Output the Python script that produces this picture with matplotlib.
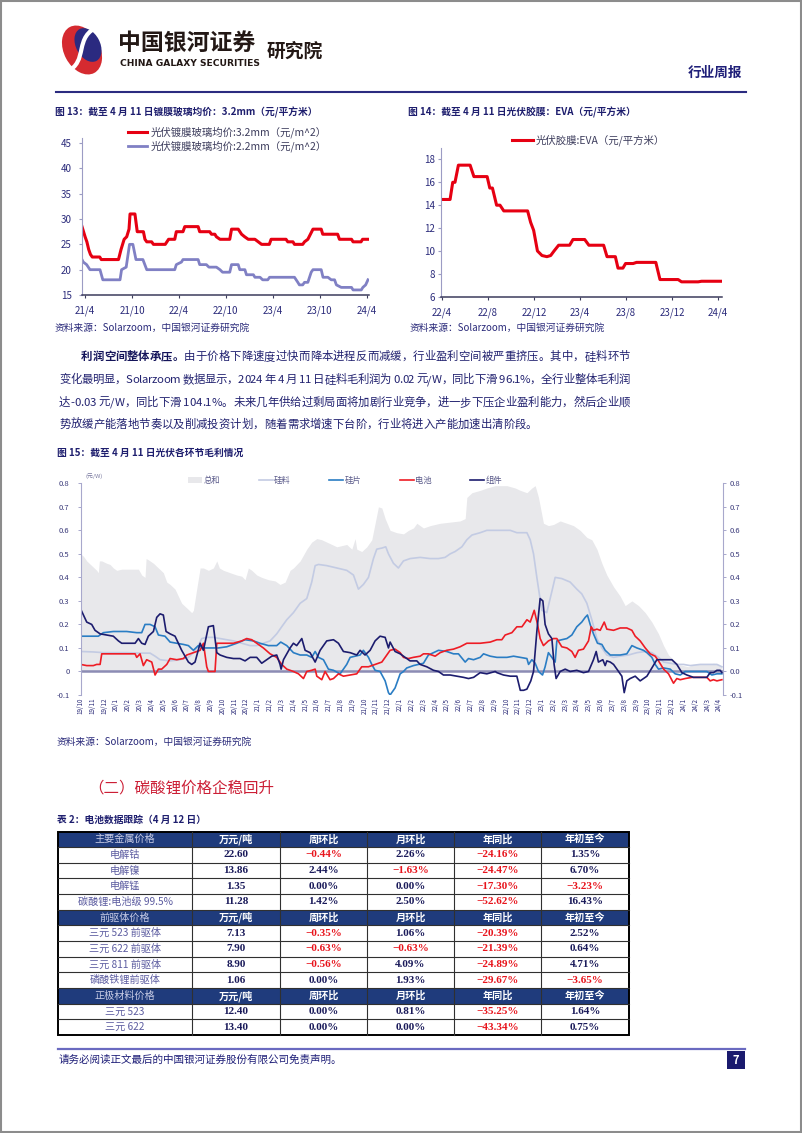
import matplotlib
matplotlib.use("Agg")
import matplotlib.pyplot as plt
import numpy as np
import pandas as pd
from matplotlib.patches import Rectangle, Ellipse, PathPatch
from matplotlib.path import Path
from matplotlib.font_manager import FontProperties, findfont, get_font

plt.rcParams['font.family'] = ['Noto Sans CJK SC', 'DejaVu Sans']
plt.rcParams['axes.unicode_minus'] = False

# ---------------- data ----------------
# 图13 镀膜玻璃均价 (date, 元/m^2)
glass_32 = [("2021-03-20", 28.5), ("2021-04-01", 26.5), ("2021-04-08", 25.5), ("2021-04-15", 24),
            ("2021-04-22", 23), ("2021-04-29", 22.5), ("2021-05-28", 22.5), ("2021-06-03", 22),
            ("2021-08-09", 22), ("2021-08-19", 24), ("2021-08-31", 26), ("2021-09-10", 26.5),
            ("2021-09-19", 28), ("2021-09-23", 31), ("2021-10-12", 31), ("2021-10-21", 27.5),
            ("2021-11-14", 27.5), ("2021-11-20", 26), ("2021-11-27", 25.5), ("2021-12-16", 25.5),
            ("2021-12-23", 25), ("2022-02-07", 25), ("2022-02-20", 26), ("2022-03-16", 26),
            ("2022-03-22", 27.5), ("2022-04-17", 27.5), ("2022-04-24", 28.5), ("2022-06-15", 28.5),
            ("2022-06-21", 27.5), ("2022-07-30", 27.5), ("2022-08-06", 27), ("2022-08-19", 27),
            ("2022-08-25", 26.5), ("2022-09-08", 26), ("2022-10-16", 26), ("2022-10-23", 28),
            ("2022-11-18", 28), ("2022-12-01", 27), ("2022-12-13", 26.5), ("2022-12-27", 26),
            ("2023-01-22", 26), ("2023-02-04", 25.5), ("2023-02-17", 25), ("2023-03-19", 25),
            ("2023-03-26", 26), ("2023-05-23", 26), ("2023-05-30", 25.5), ("2023-06-19", 25.5),
            ("2023-06-25", 25), ("2023-07-27", 25), ("2023-08-03", 25.5), ("2023-08-16", 26),
            ("2023-09-05", 28), ("2023-10-07", 28), ("2023-10-13", 27), ("2023-12-10", 27),
            ("2023-12-17", 26), ("2024-02-02", 26), ("2024-02-08", 25.5), ("2024-03-10", 25.5),
            ("2024-03-16", 26), ("2024-04-06", 26)]
glass_22 = [("2021-03-20", 22), ("2021-03-25", 21.5), ("2021-04-07", 21), ("2021-04-20", 20),
            ("2021-05-29", 20), ("2021-06-09", 18), ("2021-08-15", 18), ("2021-08-21", 20),
            ("2021-09-08", 20.5), ("2021-09-21", 25), ("2021-10-04", 25), ("2021-10-16", 22),
            ("2021-11-12", 22), ("2021-11-27", 20), ("2022-03-16", 20), ("2022-03-22", 21),
            ("2022-04-11", 21.5), ("2022-04-17", 22), ("2022-06-15", 22), ("2022-06-21", 21),
            ("2022-07-17", 21), ("2022-07-27", 20.5), ("2022-08-25", 20.5), ("2022-09-08", 20),
            ("2022-09-18", 19.5), ("2022-10-16", 19.5), ("2022-10-23", 21), ("2022-11-18", 21),
            ("2022-11-24", 20), ("2022-12-14", 20), ("2022-12-20", 19), ("2023-01-16", 19),
            ("2023-01-22", 18.5), ("2023-02-11", 18.5), ("2023-02-21", 18), ("2023-03-13", 18),
            ("2023-03-20", 18.5), ("2023-06-25", 18.5), ("2023-07-08", 17.5), ("2023-07-14", 17),
            ("2023-07-27", 17), ("2023-08-03", 17.5), ("2023-08-16", 17.5), ("2023-08-29", 19.5),
            ("2023-09-05", 20), ("2023-10-07", 20), ("2023-10-14", 18.5), ("2023-11-02", 18.5),
            ("2023-11-15", 18), ("2023-11-28", 18), ("2023-12-05", 17), ("2023-12-24", 16.5),
            ("2024-02-02", 16.5), ("2024-02-08", 16), ("2024-03-11", 16), ("2024-03-17", 16.5),
            ("2024-03-28", 17), ("2024-04-06", 18)]
glass_tick_dates = ["2021-04-01", "2021-10-01", "2022-04-01", "2022-10-01", "2023-04-01", "2023-10-01", "2024-04-01"]
glass_ticks = ["21/4", "21/10", "22/4", "22/10", "23/4", "23/10", "24/4"]

# 图14 EVA胶膜 (date, 元/平方米)
eva = [("2022-03-31", 14.5), ("2022-04-23", 14.5), ("2022-04-30", 16), ("2022-05-06", 16),
       ("2022-05-15", 17.5), ("2022-06-15", 17.5), ("2022-06-25", 16.5), ("2022-07-30", 16.5),
       ("2022-08-06", 15.5), ("2022-08-13", 15.5), ("2022-08-24", 14), ("2022-09-02", 14),
       ("2022-09-12", 13.5), ("2022-11-14", 13.5), ("2022-11-22", 12.5), ("2022-11-30", 11.8),
       ("2022-12-10", 10), ("2022-12-22", 9.6), ("2023-01-04", 9.5), ("2023-01-14", 9.6),
       ("2023-01-23", 10), ("2023-02-04", 10.5), ("2023-03-05", 10.5), ("2023-03-14", 11),
       ("2023-04-14", 11), ("2023-04-25", 10.5), ("2023-06-03", 10.5), ("2023-06-12", 9.5),
       ("2023-07-04", 9.5), ("2023-07-11", 8.5), ("2023-07-24", 8.5), ("2023-07-31", 8.9),
       ("2023-08-20", 8.9), ("2023-08-29", 9), ("2023-10-19", 9), ("2023-10-30", 7.5),
       ("2023-12-17", 7.5), ("2023-12-26", 7.3), ("2024-02-08", 7.3), ("2024-02-17", 7.35),
       ("2024-04-10", 7.35)]
eva_tick_dates = ["2022-04-01", "2022-08-01", "2022-12-01", "2023-04-01", "2023-08-01", "2023-12-01", "2024-04-01"]
eva_ticks = ["22/4", "22/8", "22/12", "23/4", "23/8", "23/12", "24/4"]

# 图15 各环节毛利 (months since 2019/10, 元/W)
margin_ticks = ["19/10", "19/11", "19/12"] + [f"{y}/{m}" for y in (20, 21, 22, 23) for m in range(1, 13)] \
    + ["24/1", "24/2", "24/3", "24/4"]
total = [(0, .50), (.23, .49), (.51, .47), (.93, .45), (1.35, .43), (1.49, .42), (1.58, .47), (1.78, .47),
         (2.2, .46), (2.48, .455), (2.76, .44), (3.05, .43), (3.47, .435), (3.89, .435), (4.31, .435),
         (4.88, .435), (5.16, .41), (5.44, .40), (5.53, .48), (5.72, .475), (6.15, .46), (6.57, .44),
         (6.99, .42), (7.28, .38), (7.56, .37), (7.98, .35), (8.26, .32), (8.54, .29), (8.97, .27),
         (9.39, .25), (9.53, .26), (9.81, .35), (10.1, .44), (10.38, .44), (10.8, .43), (11.22, .44),
         (11.51, .47), (11.73, .44), (12.07, .43), (12.63, .42), (13.2, .41), (13.62, .405), (13.9, .39),
         (14.18, .44), (14.47, .43), (14.89, .41), (15.31, .40), (15.88, .39), (16.44, .385), (16.86, .37),
         (17.29, .38), (17.71, .43), (17.99, .44), (18.56, .47), (19.12, .52), (19.54, .55), (19.97, .565),
         (20.39, .56), (20.81, .55), (21.24, .54), (21.66, .53), (22.08, .535), (22.5, .54), (22.93, .52),
         (23.21, .565), (23.35, .52), (23.77, .51), (24.2, .53), (24.62, .56), (24.9, .63), (25.18, .70),
         (25.47, .695), (25.75, .65), (26.17, .60), (26.73, .59), (27.3, .585), (27.72, .60), (28.14, .61),
         (28.43, .63), (28.99, .61), (29.55, .62), (30.4, .63), (31.25, .635), (32.09, .64), (32.52, .65),
         (32.66, .74), (33.09, .76), (33.79, .77), (34.35, .78), (35.06, .79), (36.05, .79), (36.75, .78),
         (37.18, .77), (37.74, .76), (38.16, .78), (38.44, .79), (38.72, .74), (39.14, .63), (39.56, .62),
         (39.99, .625), (40.55, .64), (41.12, .63), (41.68, .62), (42.24, .60), (42.81, .57), (43.23, .56),
         (43.66, .52), (44.08, .46), (44.5, .41), (45.07, .36), (45.63, .32), (46.05, .28), (46.33, .29),
         (46.62, .30), (47.18, .28), (47.75, .25), (48.31, .21), (48.87, .16), (49.3, .11), (49.72, .07),
         (50.14, .05), (50.56, .03), (50.99, .025), (51.41, .02), (51.83, .03), (52.4, .03), (53.1, .03),
         (53.52, .035), (53.95, .03), (54.23, .02)]
silicon = [(0, .085), (1.07, .083), (1.92, .08), (2.76, .08), (3.89, .08), (5.02, .078), (5.87, .078),
           (6.29, .065), (6.71, .05), (7.56, .045), (8.4, .05), (9.11, .06), (9.53, .08), (9.95, .11),
           (10.24, .14), (10.66, .145), (11.22, .145), (11.79, .14), (12.35, .135), (12.92, .13), (13.62, .12),
           (14.33, .11), (14.89, .11), (15.45, .12), (16.02, .13), (16.58, .16), (17.0, .19), (17.43, .22),
           (17.99, .25), (18.56, .29), (19.12, .31), (19.54, .38), (19.83, .45), (20.11, .455), (20.81, .45),
           (21.66, .44), (22.5, .43), (23.07, .41), (23.49, .35), (23.91, .37), (24.34, .40), (24.76, .48),
           (25.04, .52), (25.5, .525), (25.8, .53), (26.03, .50), (26.45, .46), (26.87, .44), (27.3, .47),
           (27.86, .48), (28.71, .485), (29.55, .48), (30.26, .48), (30.82, .485), (31.25, .50), (31.67, .51),
           (32.24, .53), (32.66, .56), (33.09, .58), (33.79, .59), (34.35, .60), (35.2, .60), (36.33, .60),
           (36.89, .59), (37.74, .59), (38.02, .56), (38.3, .50), (38.58, .40), (39.0, .26), (39.42, .25),
           (39.85, .34), (40.13, .40), (40.69, .395), (41.4, .38), (41.96, .35), (42.38, .33), (42.81, .29),
           (43.23, .22), (43.66, .14), (44.08, .10), (44.5, .07), (45.07, .06), (45.63, .065), (46.33, .07),
           (47.04, .08), (47.75, .085), (48.31, .08), (48.87, .06), (49.3, .04), (49.86, .035), (50.42, .03),
           (50.99, .03), (51.55, .025), (52.4, .03), (53.24, .03), (53.81, .03), (54.23, .02)]
wafer = [(0, .15), (.79, .15), (1.49, .15), (1.92, .165), (2.76, .17), (3.89, .17), (4.74, .165), (5.16, .165),
         (5.44, .20), (5.87, .20), (6.29, .19), (6.57, .155), (7.13, .15), (7.56, .125), (8.12, .12),
         (8.69, .115), (9.11, .11), (9.53, .09), (9.95, .11), (10.38, .10), (10.94, .10), (11.65, .10),
         (12.35, .105), (13.2, .12), (13.9, .135), (14.61, .13), (15.17, .12), (15.88, .11), (16.58, .11),
         (16.92, .125), (17.43, .11), (17.99, .08), (18.56, .07), (19.12, .07), (19.54, .06), (19.83, .085),
         (20.11, .06), (20.53, .05), (20.95, .01), (21.38, .005), (21.94, -.01), (22.5, .03), (22.79, .06),
         (23.21, .065), (23.63, .07), (23.91, .09), (24.34, .06), (24.62, .03), (24.9, .005), (25.32, 0),
         (25.75, -.04), (26.03, -.09), (26.17, -.1), (26.59, -.07), (27.02, -.01), (27.3, 0), (27.58, .015),
         (28.14, .025), (28.57, .03), (28.99, .035), (29.41, .07), (29.84, .08), (30.26, .09), (30.96, .085),
         (31.53, .075), (31.95, .075), (32.52, .04), (32.8, .055), (33.23, .05), (33.79, .06), (34.07, .075),
         (34.64, .065), (35.2, .06), (36.05, .06), (36.61, .065), (37.18, .06), (37.74, .055), (37.88, .03),
         (38.16, .05), (38.44, .035), (38.72, 0), (39.06, -.015), (39.28, .02), (39.56, .08), (39.85, .06),
         (40.13, .04), (40.27, .13), (40.69, .135), (41.12, .14), (41.54, .155), (41.96, .19), (42.38, .21),
         (42.67, .23), (42.86, .24), (43.09, .2), (43.37, .16), (43.71, .12), (44.08, .115), (44.36, .09),
         (44.79, .07), (45.63, .07), (46.19, .075), (46.62, .11), (47.04, .1), (47.6, .09), (47.89, .08),
         (48.31, .06), (48.59, .03), (48.87, .01), (49.3, .015), (49.86, .01), (50.28, -.01), (50.71, -.015),
         (51.13, 0), (52.4, 0), (52.96, 0), (53.38, -.015), (53.81, -.01), (54.23, -.01)]
cell = [(0, .03), (.51, .025), (1.07, .025), (1.35, .03), (1.64, .03), (1.78, .075), (2.76, .075), (3.89, .075),
        (4.6, .075), (4.74, .06), (5.02, .075), (5.3, .025), (5.58, .05), (6.01, .04), (6.29, -.015),
        (6.57, .01), (6.85, .01), (7.28, .03), (7.56, .055), (8.12, .05), (8.69, .055), (8.97, .07),
        (9.53, .08), (10.1, .09), (10.38, .12), (10.66, .02), (10.8, 0), (11.36, 0), (11.51, .12), (12.07, .12),
        (12.92, .12), (13.62, .13), (14.04, .14), (14.47, .135), (14.89, .12), (15.45, .1), (16.02, .075),
        (16.58, .06), (17.0, .03), (17.43, .01), (17.99, 0), (18.42, -.01), (18.84, -.03), (19.12, 0),
        (19.54, .005), (19.83, .01), (19.97, -.02), (20.39, -.035), (20.67, 0), (21.09, -.035), (21.38, -.03),
        (21.8, -.01), (22.22, -.02), (22.79, -.015), (23.35, -.01), (23.77, .02), (24.34, .02), (24.9, .03),
        (25.47, .04), (26.03, .08), (26.17, .09), (26.59, .095), (27.02, .08), (27.3, .06), (27.72, .055),
        (28.14, .06), (28.71, .065), (28.99, .075), (29.41, .075), (29.98, .065), (30.4, .08), (30.96, .09),
        (31.53, .095), (32.09, .105), (32.66, .12), (33.79, .12), (34.64, .125), (35.2, .135), (35.62, .135),
        (35.9, .155), (36.47, .165), (36.89, .19), (37.32, .19), (37.74, .22), (38.02, .21), (38.36, .26),
        (38.64, .2), (38.86, .14), (39.14, .11), (39.56, .13), (39.99, .14), (40.27, .14), (40.69, .105),
        (41.12, .1), (41.54, .085), (41.82, .06), (42.1, .09), (42.52, .095), (42.95, .13), (43.18, .19),
        (43.37, .175), (43.66, .18), (43.94, .175), (44.28, .21), (44.5, .18), (45.07, .175), (45.63, .185),
        (46.19, .185), (46.62, .175), (46.9, .15), (47.32, .13), (47.75, .1), (48.17, .075), (48.59, .065),
        (48.87, .045), (49.3, .01), (49.72, -.01), (50.14, -.05), (50.42, -.03), (50.71, -.035), (51.13, -.03),
        (51.69, -.025), (52.4, -.025), (52.96, -.025), (53.24, -.04), (53.52, -.035), (53.81, -.04),
        (54.23, -.035)]
module = [(0, .265), (.23, .24), (.51, .21), (.93, .2), (1.21, .175), (1.64, .16), (2.2, .155), (2.76, .15),
          (3.19, .13), (3.47, .12), (4.17, .12), (4.6, .12), (4.88, .14), (5.16, .12), (5.44, .115), (5.72, .15),
          (6.15, .17), (6.43, .23), (6.71, .245), (6.99, .24), (7.22, .17), (7.56, .16), (7.98, .15), (8.26, .12),
          (8.54, .09), (8.83, .065), (9.11, .04), (9.39, .03), (9.67, .04), (10.1, .12), (10.38, .09),
          (10.8, .19), (11.22, .195), (11.51, .08), (11.79, .07), (12.35, .06), (12.92, .055), (13.48, .055),
          (13.9, .045), (14.33, .06), (14.89, .06), (15.31, .035), (15.74, .05), (16.16, .065), (16.58, .07),
          (16.86, .03), (16.95, .01), (17.15, .05), (17.71, .1), (17.99, .12), (18.27, .11), (18.7, .14),
          (18.98, .09), (19.4, .08), (19.83, .04), (20.25, .09), (20.81, .13), (21.38, .135), (21.8, .12),
          (22.22, .085), (22.79, .08), (23.35, .07), (23.63, .09), (24.05, .07), (24.48, .09), (24.9, .13),
          (25.32, .15), (25.75, .145), (26.03, .1), (26.17, .125), (26.59, .085), (27.02, .075), (27.44, .06),
          (27.86, .045), (28.43, .045), (28.71, .03), (29.27, .02), (29.84, .005), (30.26, 0), (30.68, -.015),
          (31.25, -.015), (31.81, -.02), (32.38, -.025), (32.8, -.03), (33.23, -.025), (33.79, -.005),
          (34.35, -.01), (35.06, 0), (35.2, -.005), (35.76, -.015), (36.33, -.02), (36.89, -.02), (37.18, -.08),
          (37.46, -.08), (37.74, -.075), (38.07, -.04), (38.3, 0), (38.58, .17), (38.86, .31), (39.09, .3),
          (39.28, .2), (39.56, .16), (39.85, .14), (40.04, .03), (40.21, -.03), (40.55, 0), (40.98, .01),
          (41.4, 0), (41.96, .005), (42.52, -.005), (42.95, 0), (43.37, .05), (43.6, .085), (43.79, .04),
          (44.16, .05), (44.36, .025), (44.5, .045), (44.79, .04), (45.07, .03), (45.49, 0), (45.77, -.02),
          (45.97, -.09), (46.19, -.04), (46.47, -.03), (46.9, -.02), (47.32, -.04), (47.89, -.02), (48.31, .015),
          (48.73, .05), (49.01, .05), (49.58, .05), (50.0, .05), (50.42, .03), (50.85, -.005), (51.27, -.015),
          (51.83, -.025), (52.4, -.025), (52.96, -.025), (53.24, -.005), (53.52, -.005), (53.81, .005),
          (54.09, .005), (54.23, -.005)]

# 表2 电池数据跟踪
table_cols = ["万元/吨", "周环比", "月环比", "年同比", "年初至今"]
metal_names = ["电解钴", "电解镍", "电解锰", "碳酸锂:电池级 99.5%"]
metal_data = [["22.60", "−0.44%", "2.26%", "−24.16%", "1.35%"],
              ["13.86", "2.44%", "−1.63%", "−24.47%", "6.70%"],
              ["1.35", "0.00%", "0.00%", "−17.30%", "−3.23%"],
              ["11.28", "1.42%", "2.50%", "−52.62%", "16.43%"]]
precursor_names = ["三元 523 前驱体", "三元 622 前驱体", "三元 811 前驱体", "磷酸铁锂前驱体"]
precursor_data = [["7.13", "−0.35%", "1.06%", "−20.39%", "2.52%"],
                  ["7.90", "−0.63%", "−0.63%", "−21.39%", "0.64%"],
                  ["8.90", "−0.56%", "4.09%", "−24.89%", "4.71%"],
                  ["1.06", "0.00%", "1.93%", "−29.67%", "−3.65%"]]
cathode_names = ["三元 523", "三元 622"]
cathode_data = [["12.40", "0.00%", "0.81%", "−35.25%", "1.64%"],
                ["13.40", "0.00%", "0.00%", "−43.34%", "0.75%"]]

# ---------------- page ----------------
W, H = 802, 1133
NAVY = '#1e1e6e'
TICK = '#2b2b7b'

fig = plt.figure(figsize=(W / 100, H / 100), dpi=100)
page = fig.add_axes([0, 0, 1, 1])
page.set_xlim(0, W)
page.set_ylim(H, 0)
page.axis('off')


def box(x0, y0, x1, y1):
    return fig.add_axes([x0 / W, 1 - y1 / H, (x1 - x0) / W, (y1 - y0) / H])


def txt(x, y, s, **kw):
    kw.setdefault('va', 'center')
    return page.text(x, y, s, **kw)


def style(ax, ypad, xpad):
    ax.patch.set_alpha(0)
    for s in ('top', 'right'):
        ax.spines[s].set_visible(False)
    ax.spines['left'].set_color('#9c9cc4')
    ax.spines['bottom'].set_color('#3c3c5c')
    ax.spines['bottom'].set_linewidth(1.1)
    ax.tick_params(axis='y', length=2.5, width=0.8, color='#9c9cc4', pad=ypad, labelsize=7, labelcolor=TICK)
    ax.tick_params(axis='x', length=2.5, width=0.8, color='#3c3c5c', pad=xpad, labelsize=7, labelcolor=TICK)


# border
page.add_patch(Rectangle((0.8, 0.8), W - 1.6, H - 1.6, fc='none', ec='#8c8c8c', lw=1.5))

# logo + header
page.add_patch(Ellipse((82, 50), 36, 52, angle=-28, fc='#d52a30', ec='none'))
page.add_patch(Ellipse((88, 45), 24, 36, angle=-28, fc='#2b2a80', ec='none'))
s_curve = Path([(66, 72), (90, 62), (72, 36), (100, 26)], [Path.MOVETO, Path.CURVE4, Path.CURVE4, Path.CURVE4])
page.add_patch(PathPatch(s_curve, fc='none', ec='white', lw=3.0))
txt(118, 43, "中国银河证券", fontsize=16.5, fontweight='bold', color='#231815')
txt(120, 63.5, "CHINA GALAXY SECURITIES", fontsize=6.6, fontweight='bold', color='#231815',
    family=['Liberation Sans Narrow', 'DejaVu Sans'])
txt(267, 51, "研究院", fontsize=13.5, fontweight='bold', color='#231815')
txt(742, 72.5, "行业周报", fontsize=9.8, fontweight='bold', color='#1e1e78', ha='right')
page.plot([56, 746], [91.7, 91.7], color='#2b2b80', lw=1.5)

# ---------------- 图13 ----------------
txt(55, 112, "图 13：截至 4 月 11 日镀膜玻璃均价：3.2mm（元/平方米）", fontsize=7, fontweight='bold', color=NAVY)
ax13 = box(82, 138, 369, 295)
d, v = zip(*glass_32)
ax13.plot(pd.to_datetime(d), v, color='#e60012', lw=2.2, label="光伏镀膜玻璃均价:3.2mm（元/m^2）")
d, v = zip(*glass_22)
ax13.plot(pd.to_datetime(d), v, color='#8080c4', lw=2.0, label="光伏镀膜玻璃均价:2.2mm（元/m^2）")
ax13.set_xlim(pd.Timestamp("2021-03-20"), pd.Timestamp("2024-04-10"))
ax13.set_ylim(15, 46)
ax13.set_yticks(range(15, 46, 5))
ax13.set_xticks(pd.to_datetime(glass_tick_dates))
ax13.set_xticklabels(glass_ticks)
style(ax13, 5, 5)
ax13.legend(loc='center left', bbox_to_anchor=(128 / W, 1 - 139 / H), bbox_transform=fig.transFigure,
            frameon=False, fontsize=7.5, handlelength=1.85, handletextpad=0.35, labelspacing=0.25,
            borderpad=0, borderaxespad=0, labelcolor='#3c3c5c')
txt(55, 328, "资料来源：Solarzoom，中国银河证券研究院", fontsize=7, color='#2a2a7a', style='italic')

# ---------------- 图14 ----------------
txt(408, 112, "图 14：截至 4 月 11 日光伏胶膜：EVA（元/平方米）", fontsize=7, fontweight='bold', color=NAVY)
ax14 = box(441, 148, 722, 296.7)
d, v = zip(*eva)
ax14.plot(pd.to_datetime(d), v, color='#e60012', lw=2.2, label="光伏胶膜:EVA（元/平方米）")
ax14.set_xlim(pd.Timestamp("2022-03-30"), pd.Timestamp("2024-04-11"))
ax14.set_ylim(6, 19)
ax14.set_yticks(range(6, 19, 2))
ax14.set_xticks(pd.to_datetime(eva_tick_dates))
ax14.set_xticklabels(eva_ticks)
style(ax14, 1.5, 5)
ax14.legend(loc='center left', bbox_to_anchor=(512 / W, 1 - 140 / H), bbox_transform=fig.transFigure,
            frameon=False, fontsize=7.5, handlelength=2.0, handletextpad=0.25,
            borderpad=0, borderaxespad=0, labelcolor='#3c3c5c')
txt(410, 328, "资料来源：Solarzoom，中国银河证券研究院", fontsize=7, color='#2a2a7a', style='italic')

# ---------------- paragraph ----------------
def advance(ch, bold, size):
    em = size * 100 / 72
    if ord(ch) >= 0x2E80:      # full-width CJK glyphs are 1 em wide
        return em
    try:
        f = get_font(findfont(FontProperties(family='Noto Sans CJK SC', weight='bold' if bold else 'normal')))
        f.set_size(size, 100)
        return f.load_char(ord(ch)).linearHoriAdvance / 65536
    except Exception:
        return em * 0.55


def body_line(parts, x0, y, size, x1=None):
    chars = [(ch, b) for s, b in parts for ch in s]
    widths = [advance(ch, b, size) for ch, b in chars]
    gap = 0 if x1 is None else (x1 - x0 - sum(widths)) / (len(chars) - 1)
    x = x0
    for (ch, b), w in zip(chars, widths):
        if ch != ' ':
            page.text(x, y, ch, fontsize=size, fontweight='bold' if b else 'normal',
                      color='#14145a' if b else '#222270', va='baseline', family='Noto Sans CJK SC')
        x += w + gap


para = [
    [("利润空间整体承压。", True), ("由于价格下降速度过快而降本进程反而减缓，行业盈利空间被严重挤压。其中，硅料环节", False)],
    [("变化最明显，Solarzoom 数据显示，2024 年 4 月 11 日硅料毛利润为 0.02 元/W，同比下滑 96.1%，全行业整体毛利润", False)],
    [("达-0.03 元/W，同比下滑 104.1%。未来几年供给过剩局面将加剧行业竞争，进一步下压企业盈利能力，然后企业顺", False)],
    [("势放缓产能落地节奏以及削减投资计划，随着需求增速下台阶，行业将进入产能加速出清阶段。", False)],
]
body_line(para[0], 81, 360, 8.2, 630)
body_line(para[1], 59, 383, 8.2, 630)
body_line(para[2], 59, 406, 8.2, 630)
body_line(para[3], 59, 428, 8.2)

# ---------------- 图15 ----------------
txt(57, 452.5, "图 15：截至 4 月 11 日光伏各环节毛利情况", fontsize=7, fontweight='bold', color=NAVY)
ax15 = box(80.7, 483.3, 722.7, 695)
ax15.patch.set_alpha(0)
t, v = zip(*total)
ax15.fill_between(t, 0, v, color='#e8e8eb', lw=0, label="总和", zorder=1)
ax15.axhline(0, color='#8c8cb4', lw=1.8, zorder=1.5)
for series, color, name in [(silicon, '#c3cbe3', "硅料"), (wafer, '#2a7dc4', "硅片"),
                            (cell, '#ee1c25', "电池"), (module, '#1c1c6e', "组件")]:
    t, v = zip(*series)
    ax15.plot(t, v, color=color, lw=1.2, label=name, zorder=2)
ax15.set_xlim(0, 54.3)
ax15.set_ylim(-0.1, 0.8)
yt = np.round(np.arange(-0.1, 0.81, 0.1), 1)
ax15.set_yticks(yt)
ax15.set_yticklabels(["-0.1", "0"] + [f"{x:.1f}" for x in yt[2:]])
ax15.set_xticks(range(len(margin_ticks)))
ax15.set_xticklabels(margin_ticks, rotation=90)
for s in ('top', 'right', 'bottom'):
    ax15.spines[s].set_visible(False)
ax15.spines['left'].set_color('#a8a8cc')
ax15.tick_params(axis='y', length=2, width=0.7, color='#a8a8cc', pad=6, labelsize=5.5, labelcolor='#3a3a7a')
ax15.tick_params(axis='x', length=0, pad=2, labelsize=4.5, labelcolor='#2a2a78')
ax15r = ax15.twinx()
ax15r.set_ylim(-0.1, 0.8)
ax15r.set_yticks(yt)
ax15r.set_yticklabels([f"{x:.1f}" for x in yt])
for s in ('top', 'left', 'bottom'):
    ax15r.spines[s].set_visible(False)
ax15r.spines['right'].set_color('#a8a8cc')
ax15r.tick_params(axis='y', length=2, width=0.7, color='#a8a8cc', pad=3, labelsize=5.5, labelcolor='#3a3a7a')
ax15.legend(loc='center left', bbox_to_anchor=(188 / W, 1 - 480.7 / H), bbox_transform=fig.transFigure,
            ncol=5, frameon=False, fontsize=6, handlelength=1.7, handletextpad=0.15, columnspacing=4.6,
            borderpad=0, borderaxespad=0, labelcolor='#5a5a8a')
txt(85, 476, "(元/W)", fontsize=4.2, color='#7a7aa0')
txt(57, 742, "资料来源：Solarzoom，中国银河证券研究院", fontsize=7, color='#2a2a7a', style='italic')

# ---------------- section + table ----------------
txt(88, 788, "（二）碳酸锂价格企稳回升", fontsize=11.2, color='#cc1f36')
txt(57, 820, "表 2：电池数据跟踪（4 月 12 日）", fontsize=7, fontweight='bold', color=NAVY)

col_edges = [58, 192, 280, 367, 454, 541, 629]
table_top, row_h = 831.5, 15.65
num_font = ['Liberation Serif', 'Noto Sans CJK SC']
blocks = [("主要金属价格", metal_names, metal_data),
          ("前驱体价格", precursor_names, precursor_data),
          ("正极材料价格", cathode_names, cathode_data)]
r = 0
for head, names, data in blocks:
    y0 = table_top + r * row_h
    page.add_patch(Rectangle((col_edges[0], y0), col_edges[-1] - col_edges[0], row_h, fc='#1f3b7c', ec='none'))
    cy = y0 + row_h / 2
    txt((col_edges[0] + col_edges[1]) / 2, cy, head, ha='center', color='#c9cde6', fontsize=7.3)
    for j, c in enumerate(table_cols):
        txt((col_edges[j + 1] + col_edges[j + 2]) / 2, cy, c, ha='center', color='white',
            fontsize=7.3, fontweight='bold')
    r += 1
    for name, vals in zip(names, data):
        cy = table_top + r * row_h + row_h / 2
        txt((col_edges[0] + col_edges[1]) / 2, cy, name, ha='center', color='#5c5ca0', fontsize=7.3)
        for j, val in enumerate(vals):
            txt((col_edges[j + 1] + col_edges[j + 2]) / 2, cy, val, ha='center', fontsize=8,
                fontweight='bold', family=num_font,
                color='#e8141c' if val.startswith('−') else '#1a1a5a')
        r += 1
table_bottom = table_top + r * row_h
for i in range(1, r):
    y = table_top + i * row_h
    page.plot([col_edges[0], col_edges[-1]], [y, y], color='#303030', lw=0.8)
for x in col_edges[1:-1]:
    page.plot([x, x], [table_top, table_bottom], color='#303030', lw=0.8)
page.add_patch(Rectangle((col_edges[0], table_top), col_edges[-1] - col_edges[0], table_bottom - table_top,
                         fc='none', ec='black', lw=1.4))

# ---------------- footer ----------------
page.plot([58, 745], [1049, 1049], color='#6a6ac0', lw=1.6)
txt(59, 1059.5, "请务必阅读正文最后的中国银河证券股份有限公司免责声明。", fontsize=7.6, color='#1e1e78')
page.add_patch(Rectangle((727, 1051), 18, 18, fc='#1a1a6e', ec='none'))
txt(736, 1060, "7", fontsize=8, fontweight='bold', color='white', ha='center')

fig.savefig("out.png", dpi=100)
